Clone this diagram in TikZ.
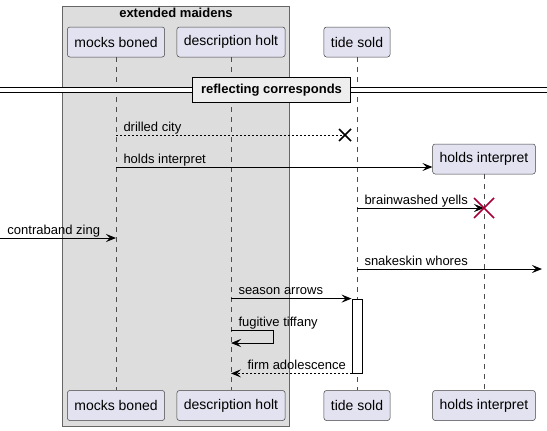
\documentclass[tikz,border=0pt]{standalone}
\usepackage{fontspec}
\setmainfont{Liberation Sans}
\usetikzlibrary{arrows.meta,positioning}
\definecolor{partfill}{HTML}{E2E2F0}
\definecolor{groupfill}{HTML}{DDDDDD}
\definecolor{divfill}{HTML}{EEEEEE}
\definecolor{killred}{HTML}{A80036}

\begin{document}
\begin{tikzpicture}[x=1pt,y=-1pt,>={Stealth[length=10pt,width=8pt,inset=4pt]},line width=1pt]
          \tikzstyle{every node}=[font=\fontsize{13}{15}\selectfont]
          \tikzstyle{part}=[draw=black!75,fill=partfill,line width=0.5pt,rounded corners=2.5pt,minimum height=30pt,inner xsep=7pt,font=\fontsize{14}{16}\selectfont]
          \tikzstyle{life}=[draw=black!70,line width=0.5pt,dash pattern=on 5pt off 5pt]
          \tikzstyle{msg}=[->]
          \tikzstyle{reply}=[->,dash pattern=on 2pt off 2pt]
          \tikzstyle{lbl}=[anchor=base west,inner sep=0pt,xshift=7pt,yshift=4pt]
          \tikzstyle{bold}=[font=\bfseries\fontsize{13}{15}\selectfont]

          \useasboundingbox (0,0) rectangle (547,431);

          % group box
          \node[draw=black!60,fill=groupfill,line width=0.8pt,minimum width=227pt,minimum height=420pt,inner sep=0pt] (grp) at (175.5,216) {};
          \node[bold,anchor=base,inner sep=0pt] (grptitle) at (176,17) {extended maidens};

          % participants
          \node[part] (mb)  at (116,42)    {mocks boned};
          \node[part] (dh)  at (231,42)    {description holt};
          \node[part] (ts)  at (357,42)    {tide sold};
          \node[part] (hi)  at (484,159)   {holds interpret};
          \node[part] (mbb) at (116,405.5) {mocks boned};
          \node[part] (dhb) at (231,405.5) {description holt};
          \node[part] (tsb) at (357,405.5) {tide sold};
          \node[part] (hib) at (484,405.5) {holds interpret};

          % lifelines
          \draw[life] (mb.south) -- (mbb.north);
          \draw[life] (dh.south) -- (dhb.north);
          \draw[life] (ts.south) -- (tsb.north);
          \draw[life] (hi.south) -- (hib.north);

          % divider
          \coordinate (dl) at (0,90);
          \coordinate (dr) at (547,90);
          \draw[double,double distance=4pt,line width=0.8pt] (dl) -- (dr);
          \node[bold,draw,fill=divfill,line width=1.5pt,minimum width=158pt,minimum height=25pt] (div) at (271.5,90) {reflecting corresponds};

          % rows
          \coordinate (r1) at (0,135);
          \coordinate (r2) at (0,167);
          \coordinate (r3) at (0,208);
          \coordinate (r4) at (0,238);
          \coordinate (r5) at (0,269);
          \coordinate (r6) at (0,330);
          \coordinate (r7) at (0,343);
          \coordinate (kill1) at (345,135);
          \coordinate (kill2) at (484,208);
          \coordinate (outr) at (542,269);

          % activation
          \node[draw,fill=white,line width=0.8pt,minimum width=10pt,minimum height=74pt,inner sep=0pt] (act) at (357,336) {};

          % messages
          \draw[reply,-] (mb |- r1) -- (kill1) node[at start,lbl] {drilled city};
          \draw[msg] (mb |- r2) -- (hi.west |- r2) node[at start,lbl] {holds interpret};
          \draw[msg] (ts |- r3) -- (kill2) node[at start,lbl] {brainwashed yells};
          \draw[msg] (r4) -- (mb |- r4) node[at start,lbl] {contraband zing};
          \draw[msg] (ts |- r5) -- (outr) node[at start,lbl] {snakeskin whores};
          \draw[msg] (dh |- act.north) -- (act.north west) node[at start,lbl] {season arrows};
          \draw[msg] (dh |- r6) -- ++(42,0) -- ++(0,13) -- (dh |- r7);
          \node[lbl,anchor=base west] (selflbl) at (dh |- r6) {fugitive tiffany};
          \draw[reply] (act.south west) -- (dh |- act.south) node[at end,lbl,xshift=9pt] {firm adolescence};

          % destroy marks
          \draw[line width=1.5pt] (kill1) +(-6,-6) -- +(6,6) +(-6,6) -- +(6,-6);
          \draw[killred,line width=1.5pt] (kill2) +(-10,-10) -- +(10,10) +(-10,10) -- +(10,-10);

        \end{tikzpicture}
\end{document}
